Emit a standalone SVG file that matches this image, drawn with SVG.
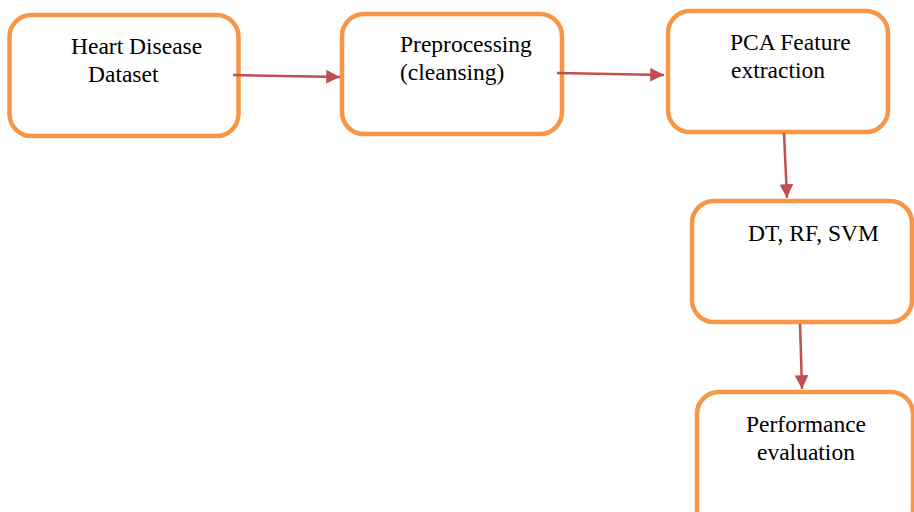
<svg xmlns="http://www.w3.org/2000/svg" width="914" height="512" viewBox="0 0 914 512">
<style>
.box{fill:#fff;stroke:#F79646;stroke-width:4.5}
.lbl{font-family:"Liberation Serif","Times New Roman",serif;font-size:23.5px;fill:#000}
.con{stroke:#C0504D;stroke-width:2.5;fill:none}
</style>
<defs>
<marker id="ah" viewBox="0 0 10 10" refX="10" refY="5" markerWidth="5.5" markerHeight="5.5" orient="auto" markerUnits="strokeWidth">
<path d="M0,0 L10,5 L0,10 z" fill="#C0504D"/>
</marker>
</defs>
<rect width="914" height="512" fill="#fff"/>
<g id="n1"><rect class="box" x="9.5" y="15" width="229" height="121" rx="22"/>
<text class="lbl" x="71" y="54">Heart Disease</text><text class="lbl" x="88" y="82">Dataset</text></g>
<g id="n2"><rect class="box" x="342" y="14" width="220" height="120" rx="22"/>
<text class="lbl" x="400" y="52">Preprocessing</text><text class="lbl" x="400" y="80">(cleansing)</text></g>
<g id="n3"><rect class="box" x="668" y="11" width="220" height="121" rx="22"/>
<text class="lbl" x="730" y="50">PCA Feature</text><text class="lbl" x="731" y="78">extraction</text></g>
<g id="n4"><rect class="box" x="692" y="201" width="220" height="121" rx="22"/>
<text class="lbl" x="748" y="241">DT, RF, SVM</text></g>
<g id="n5"><rect class="box" x="697" y="392" width="216" height="140" rx="22"/>
<text class="lbl" x="746" y="432">Performance</text><text class="lbl" x="757" y="460">evaluation</text></g>
<g id="connectors">
<line class="con" x1="233" y1="75" x2="340" y2="77" marker-end="url(#ah)"/>
<line class="con" x1="557" y1="73" x2="664" y2="75" marker-end="url(#ah)"/>
<line class="con" x1="784" y1="133" x2="787" y2="198" marker-end="url(#ah)"/>
<line class="con" x1="800" y1="324" x2="802" y2="389" marker-end="url(#ah)"/>
</g>
</svg>
